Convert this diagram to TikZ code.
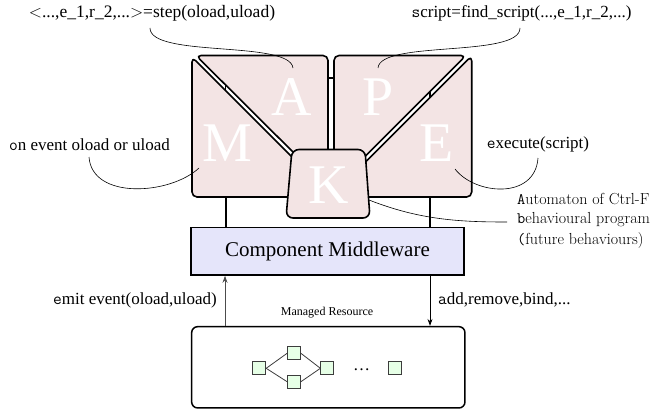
\documentclass[tikz,border=0pt]{standalone}
\usepackage{fontspec}
\setmainfont{Liberation Serif}
\newfontfamily\lmr{Latin Modern Roman}
\usetikzlibrary{arrows.meta}
\definecolor{piecefill}{RGB}{243,228,228}
\definecolor{mwfill}{RGB}{229,229,250}
\definecolor{resfill}{RGB}{230,255,230}
\definecolor{edgegray}{RGB}{60,60,60}
\begin{document}
\begin{tikzpicture}[x=1pt,y=-1pt,
  piece/.style={draw=black, fill=piecefill, line width=1.6pt, rounded corners=5pt, line join=round},
  kpiece/.style={piece, rounded corners=7pt},
  link/.style={line width=1.8pt},
  bigletter/.style={text=white, font=\fontsize{56}{56}\selectfont, inner sep=0pt},
  lbl/.style={font=\fontsize{17}{20}\selectfont, inner sep=0pt},
  rlbl/.style={font=\lmr\fontsize{16}{18}\selectfont, inner sep=0pt, anchor=west},
  pin/.style={line width=0.6pt},
  res/.style={draw=edgegray, fill=resfill, minimum size=13pt, inner sep=0pt, line width=0.8pt},
  resedge/.style={draw=edgegray, line width=0.8pt},
  arr/.style={-{Stealth[length=7pt,width=5pt]}, line width=0.8pt}
]
\useasboundingbox (0,0) rectangle (655,412);

% links between the MAPE parts (behind)
\draw[link] (225.5,78) -- (225.5,100);
\draw[link] (430,84) -- (430,106);
\draw[link] (326,78) -- (336,78);

% pieces
\draw[piece] (196,55.5) -- (328,55.5) -- (328,165) -- (306,165) -- cycle;      % A
\draw[piece] (192,57) -- (192,197) -- (300,197) -- (300,165) -- cycle;          % M
\draw[piece] (334,55.5) -- (466,55.5) -- (356,165.5) -- (334,165.5) -- cycle;   % P
\draw[piece] (471.7,55.8) -- (471.7,197) -- (360,197) -- (360,167.5) -- cycle;  % E
\draw[kpiece] (292,149.5) -- (365,149.5) -- (370,218) -- (286,218) -- cycle;    % K

% letters
\node[bigletter] (Ml) at (227,143.3) {M};
\node[bigletter] (Al) at (291.7,96.7) {A};
\node[bigletter] (Pl) at (378.3,96.7) {P};
\node[bigletter] (El) at (436.7,143.3) {E};
\node[bigletter] (Kl) at (328.3,185) {K};

% middleware
\node[draw, fill=mwfill, line width=1.5pt, minimum width=273pt, minimum height=47.7pt,
      font=\fontsize{21}{21}\selectfont, inner sep=0pt] (mw) at (327.5,251.2) {Component Middleware};
\coordinate (mlink) at (226,197);
\coordinate (elink) at (430,197);
\draw[link] (mlink) -- (mlink |- mw.north);
\draw[link] (elink) -- (elink |- mw.north);

% managed resource
\node[draw, rounded corners=6pt, line width=1.5pt, minimum width=273.3pt, minimum height=81.3pt] (rb) at (328.3,367.3) {};
\node[font=\fontsize{12}{12}\selectfont, inner sep=0pt] (rlabel) at (327,313) {Managed Resource};
\node[res] (s1) at (259.3,368.3) {};
\node[res] (s2) at (294,353.3) {};
\node[res] (s3) at (294,381.7) {};
\node[res] (s4) at (327.3,368.3) {};
\node[res] (s5) at (395,368.3) {};
\node[font=\fontsize{17}{17}\selectfont, inner sep=0pt, anchor=base] (dots) at (361.7,370.5) {\ldots};
\draw[resedge] (s1.east) -- (s2.west);
\draw[resedge] (s1.east) -- (s3.west);
\draw[resedge] (s2.east) -- (s4.west);
\draw[resedge] (s3.east) -- (s4.west);

% arrows
\coordinate (upx) at (225,0);
\coordinate (downx) at (430,0);
\draw[arr, draw=black!70] (rb.north -| upx) -- (mw.south -| upx);
\draw[arr] (mw.south -| downx) -- (rb.north -| downx);
\node[lbl, anchor=east] (emit) at (217,300) {{\ttfamily e}mit event(oload,uload)};
\node[lbl, anchor=west] (add) at (438,300) {{\ttfamily a}dd,remove,bind,...};

% labels
\node[lbl, font=\fontsize{17.5}{20}\selectfont] (steplbl) at (152,13) {$<$...,e\_1,r\_2,...$>$=step(oload,uload)};
\node[lbl] (scriptlbl) at (521.5,13) {{\ttfamily s}cript=find\_script(...,e\_1,r\_2,...)};
\node[lbl] (onlbl) at (89.5,145) {{\ttfamily o}n event oload or uload};
\node[lbl] (exlbl) at (538,144) {{\ttfamily e}xecute(script)};
\node[rlbl] (auto) at (517,199) {{\ttfamily A}utomaton of Ctrl-F};
\node[rlbl] (beh) at (517,220) {{\ttfamily b}ehavioural program};
\node[rlbl] (fut) at (517,241) {{\ttfamily (}future behaviours)};

% pins
\coordinate (c1s) at (150,28);  \coordinate (c1e) at (293,68);
\coordinate (c2s) at (520,28);  \coordinate (c2e) at (378,68);
\coordinate (c3s) at (89,157);  \coordinate (c3e) at (199,168);
\coordinate (c4s) at (538,158); \coordinate (c4e) at (455,169);
\coordinate (c5s) at (369,200); \coordinate (c5e) at (507,222);
\draw[pin] (c1s) .. controls (150,58) and (290,40) .. (c1e);
\draw[pin] (c2s) .. controls (520,58) and (380,40) .. (c2e);
\draw[pin] (c3s) .. controls (92,200) and (170,195) .. (c3e);
\draw[pin] (c4s) .. controls (535,200) and (475,195) .. (c4e);
\draw[pin] (c5s) .. controls (420,220) and (460,222) .. (c5e);
\end{tikzpicture}
\end{document}
